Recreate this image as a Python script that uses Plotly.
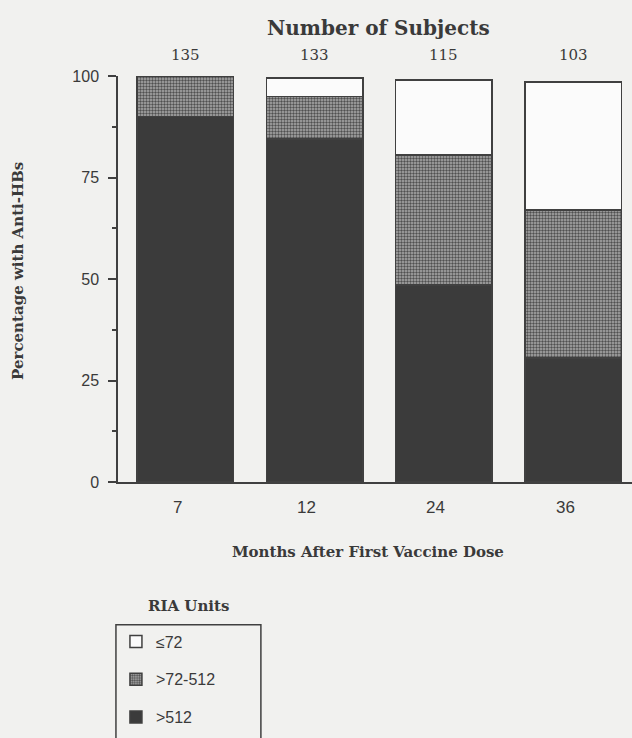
import plotly.graph_objects as go

# ---- data ----
months = ["7", "12", "24", "36"]
subjects = [135, 133, 115, 103]
above_512 = [90.0, 84.5, 48.5, 30.5]
mid_72_512 = [10.0, 10.5, 32.0, 36.5]
le_72 = [0.0, 4.5, 18.5, 31.5]
series_names = ["\u226472", ">72-512", ">512"]
y_ticks = [0, 25, 50, 75, 100]

BG = "#f1f1ef"
INK = "#3a3a3a"
EDGE = "#404040"
SERIF = "DejaVu Serif"
SANS = "Liberation Sans, Arial, sans-serif"

fig = go.Figure()
line = dict(color=EDGE, width=1.5)
fig.add_trace(go.Bar(
    x=months, y=above_512, name=series_names[2], legendgroup="c", legendrank=3,
    marker=dict(color="#3b3b3b", line=line), width=0.745,
))
fig.add_trace(go.Bar(
    x=months, y=mid_72_512, name=series_names[1], legendgroup="b", legendrank=2,
    marker=dict(color="#8a8a8a", line=line,
                pattern=dict(shape=".", fgcolor="#505050", bgcolor="#acacac",
                             size=3, solidity=0.5, fillmode="replace")),
    width=0.745,
))
fig.add_trace(go.Bar(
    x=months, y=le_72, name=series_names[0], legendgroup="a", legendrank=1,
    marker=dict(color="#fbfbfb", line=line), width=0.745,
))

annotations = []
# counts above bars
for i, n in enumerate(subjects):
    annotations.append(dict(x=i, y=1, yref="paper", xref="x", text=str(n),
                            showarrow=False, yshift=21, xanchor="center",
                            yanchor="middle",
                            font=dict(family=SERIF, size=15, color=INK)))
# x tick labels
for i, m in enumerate(months):
    annotations.append(dict(x=i, y=0, yref="paper", xref="x", text=m,
                            showarrow=False, yshift=-25, xshift=-8,
                            xanchor="center", yanchor="middle",
                            font=dict(family=SANS, size=17, color=INK)))
annotations += [
    dict(text="<b>Number of Subjects</b>", xref="paper", yref="paper",
         x=0.507, y=1, yshift=48, showarrow=False, xanchor="center", yanchor="middle",
         font=dict(family=SERIF, size=20, color=INK)),
    dict(text="<b>Months After First Vaccine Dose</b>", xref="paper", yref="paper",
         x=0.487, y=0, yshift=-70, showarrow=False, xanchor="center", yanchor="middle",
         font=dict(family=SERIF, size=15, color=INK)),
    dict(text="<b>Percentage with Anti-HBs</b>", xref="paper", yref="paper",
         x=0, xshift=-100, y=0.52, textangle=-90, showarrow=False,
         xanchor="center", yanchor="middle",
         font=dict(family=SERIF, size=15, color=INK)),
    dict(text="<b>RIA Units</b>", xref="paper", yref="paper",
         x=0.137, y=0, yshift=-124, showarrow=False, xanchor="center", yanchor="middle",
         font=dict(family=SERIF, size=15, color=INK)),
]

# legend frame (box wider than plotly's auto legend, runs off the bottom edge)
shapes = [dict(type="rect", xref="paper", yref="paper",
               x0=-0.004, x1=0.278, y0=-0.3514, y1=-0.72,
               line=dict(color=EDGE, width=1.5), fillcolor="rgba(0,0,0,0)")]

fig.update_layout(
    width=632, height=738,
    margin=dict(l=118, r=0, t=76, b=256),
    paper_bgcolor=BG, plot_bgcolor=BG,
    barmode="stack", bargap=0.25,
    showlegend=True,
    legend=dict(x=-0.004, xanchor="left", y=-0.351, yanchor="top",
                traceorder="grouped", tracegroupgap=14,
                borderwidth=0, bgcolor="rgba(0,0,0,0)",
                font=dict(family=SANS, size=16, color=INK)),
    annotations=annotations,
    shapes=shapes,
    xaxis=dict(type="category", range=[-0.5205, 3.4548], showticklabels=False,
               ticks="", showline=True, linecolor=EDGE, linewidth=1.5,
               showgrid=False, zeroline=False, fixedrange=True),
    yaxis=dict(range=[0, 100], tickvals=y_ticks, ticks="outside", ticklen=8,
               tickwidth=1.5, tickcolor=EDGE,
               showline=True, linecolor=EDGE, linewidth=1.5,
               showgrid=False, zeroline=False, ticklabelstandoff=6,
               tickfont=dict(family=SANS, size=16, color=INK),
               minor=dict(tickvals=[12.5, 37.5, 62.5, 87.5], ticks="outside",
                          ticklen=4, tickwidth=1.5, tickcolor=EDGE)),
)

fig.write_html(
    "out.html",
    config={"displayModeBar": False},
    post_script="document.body.style.margin='0';document.body.style.background='%s';" % BG,
)
